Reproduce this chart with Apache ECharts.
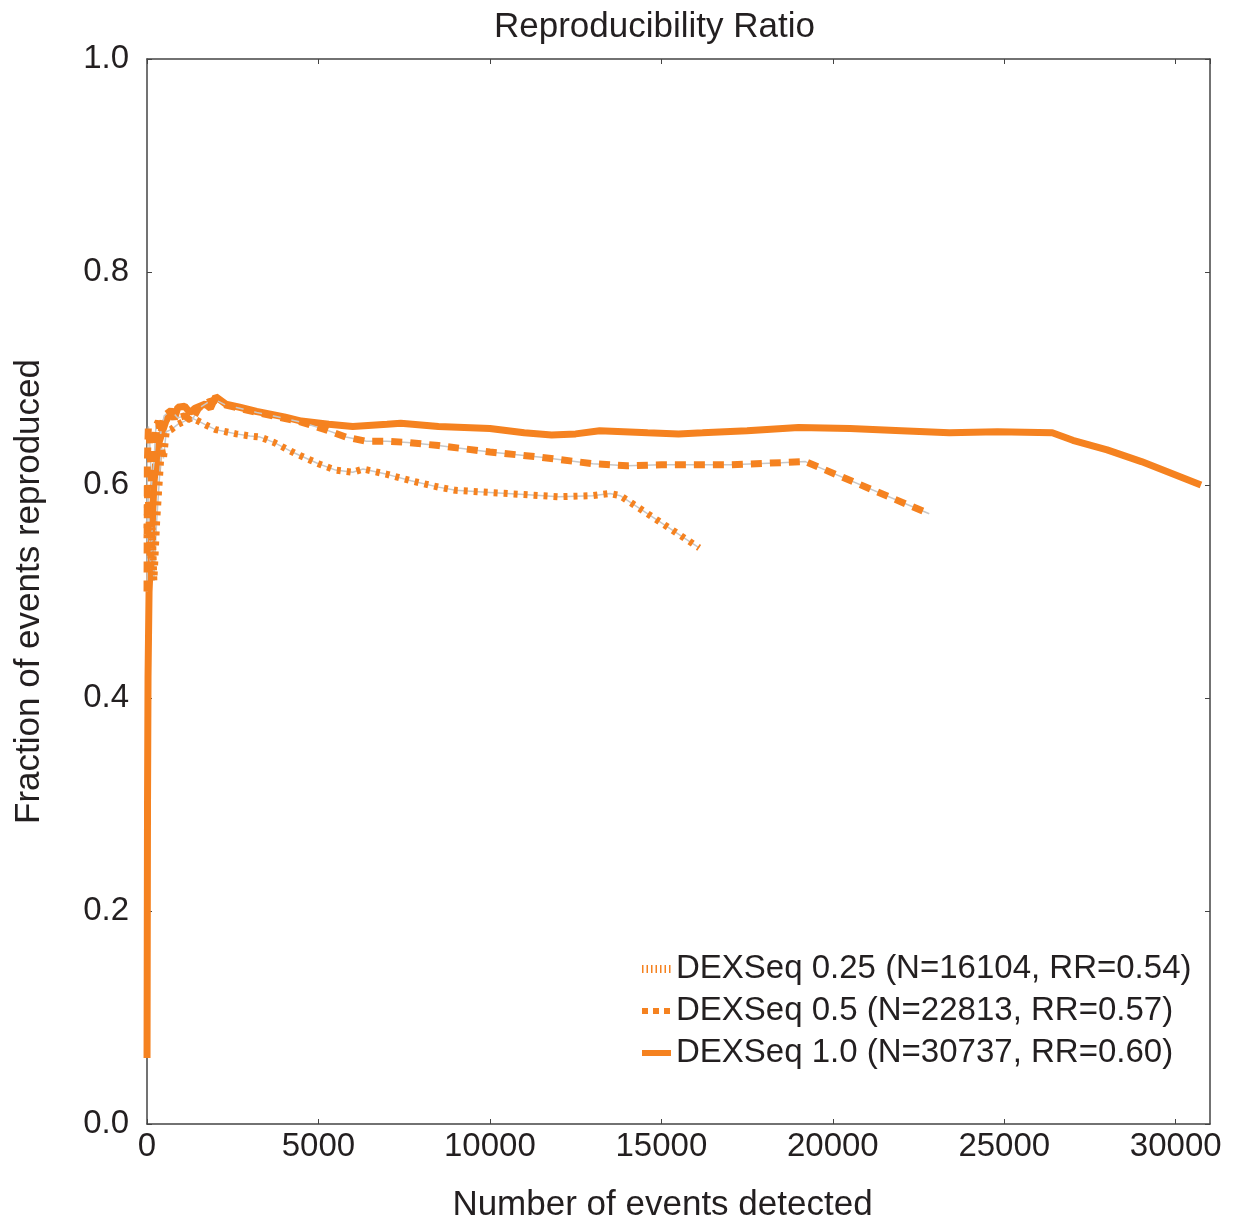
<!DOCTYPE html>
<html>
<head>
<meta charset="utf-8">
<script src="https://cdn.jsdelivr.net/npm/echarts@6/dist/echarts.min.js"></script>
<style>
  html, body { margin: 0; padding: 0; background: #fff; }
  #chart { width: 1244px; height: 1230px; }
</style>
</head>
<body>
<div id="chart"></div>
<script>
// series values: [events detected, fraction reproduced]
var dex100 = [[1,0.062],[15,0.30],[30,0.42],[60,0.50],[100,0.53],[150,0.56],[200,0.60],[250,0.62],[300,0.61],[350,0.64],[450,0.65],[550,0.66],
  [700,0.668],[800,0.662],[900,0.673],[1100,0.674],[1250,0.668],[1400,0.672],[1700,0.676],[1850,0.672],[2000,0.683],[2300,0.676],[2700,0.673],[3200,0.669],[4000,0.664],
  [4500,0.660],[5300,0.657],[6000,0.655],[7000,0.657],[7400,0.658],[8500,0.655],[10000,0.653],[11000,0.649],[11800,0.647],[12500,0.648],
  [13200,0.651],[14600,0.649],[15500,0.648],[16200,0.649],[17500,0.651],[19000,0.654],[20500,0.653],[22000,0.651],[23400,0.649],
  [24800,0.650],[26400,0.649],[27000,0.642],[28000,0.633],[29000,0.622],[30737,0.600]];

var dex050 = [[1,0.50],[10,0.62],[40,0.655],[80,0.64],[130,0.60],[200,0.62],[260,0.655],[330,0.66],[400,0.648],[500,0.665],[700,0.670],
  [900,0.663],[1100,0.665],[1300,0.660],[1500,0.672],[1800,0.678],[2000,0.680],[2300,0.675],[2700,0.672],[3200,0.668],[3800,0.664],
  [4500,0.659],[5200,0.652],[5800,0.645],[6400,0.641],[7000,0.641],[7600,0.640],[8500,0.637],[10000,0.631],[11500,0.626],[13000,0.620],
  [14000,0.618],[15000,0.619],[17000,0.619],[18500,0.621],[19200,0.622],[22813,0.573]];

var dex025 = [[1,0.55],[20,0.60],[50,0.58],[100,0.52],[150,0.56],[200,0.51],[280,0.565],[350,0.60],[420,0.635],[480,0.625],[560,0.650],
  [700,0.652],[900,0.657],[1100,0.660],[1300,0.663],[1500,0.660],[1800,0.655],[2000,0.652],[2300,0.650],[2600,0.648],[3000,0.646],
  [3300,0.645],[3700,0.640],[4300,0.630],[5000,0.620],[5500,0.614],[6000,0.612],[6300,0.615],[7000,0.610],[7700,0.604],[8500,0.598],
  [9000,0.595],[10000,0.593],[11000,0.591],[12000,0.589],[13000,0.590],[13500,0.592],[13800,0.590],[16104,0.541]];

var seriesNames = ['DEXSeq 0.25 (N=16104, RR=0.54)', 'DEXSeq 0.5 (N=22813, RR=0.57)', 'DEXSeq 1.0 (N=30737, RR=0.60)'];

var orange = '#F58220';
var font = 'Liberation Sans, Arial, Helvetica, sans-serif';
var textColor = '#231f20';

var myChart = echarts.init(document.getElementById('chart'));

var boxAxis = {
    axisLine: { show: true, onZero: false, lineStyle: { color: '#444', width: 1.5 } },
    axisTick: { show: true, inside: true, length: 5, lineStyle: { color: '#444', width: 1 } },
    splitLine: { show: false }
};

var option = {
    backgroundColor: '#fff',
    animation: false,
    title: {
        text: 'Reproducibility Ratio',
        left: 489,
        top: 5,
        textStyle: { fontFamily: font, fontSize: 35, fontWeight: 'normal', color: textColor }
    },
    grid: { left: 147, right: 34, top: 59, bottom: 106, containLabel: false },
    legend: {
        orient: 'vertical',
        left: 633,
        top: 946,
        itemWidth: 29,
        itemHeight: 14,
        itemGap: 6,
        itemStyle: { opacity: 0 },
        textStyle: { fontFamily: font, fontSize: 33, color: textColor, lineHeight: 36 },
        data: [
            { name: seriesNames[0], itemStyle: { opacity: 0 }, lineStyle: { width: 8, type: [1.5, 3], color: orange } },
            { name: seriesNames[1], itemStyle: { opacity: 0 }, lineStyle: { width: 6, type: [6, 5], color: orange } },
            { name: seriesNames[2], itemStyle: { opacity: 0 }, lineStyle: { width: 6, type: 'solid', color: orange } }
        ]
    },
    xAxis: [
        Object.assign({
            type: 'value',
            min: 0,
            max: 31000,
            interval: 5000,
            name: 'Number of events detected',
            nameLocation: 'middle',
            nameGap: 64,
            nameTextStyle: { fontFamily: font, fontSize: 35, color: textColor, padding: [0, 32, 0, 0] },
            axisLabel: {
                fontFamily: font, fontSize: 33, color: textColor, margin: 6, showMaxLabel: false,
                formatter: function (v) { return String(v); }
            }
        }, boxAxis),
        Object.assign({
            type: 'value',
            position: 'top',
            min: 0,
            max: 31000,
            interval: 5000,
            axisLabel: { show: false }
        }, boxAxis)
    ],
    yAxis: [
        Object.assign({
            type: 'value',
            min: 0,
            max: 1,
            interval: 0.2,
            name: 'Fraction of events reproduced',
            nameLocation: 'middle',
            nameGap: 100,
            nameTextStyle: { fontFamily: font, fontSize: 35, color: textColor },
            axisLabel: {
                fontFamily: font, fontSize: 33, color: textColor, margin: 18,
                formatter: function (v) { return v.toFixed(1); }
            }
        }, boxAxis),
        Object.assign({
            type: 'value',
            position: 'right',
            min: 0,
            max: 1,
            interval: 0.2,
            axisLabel: { show: false }
        }, boxAxis)
    ],
    series: [
        {
            name: seriesNames[2],
            type: 'line',
            data: dex100,
            showSymbol: false,
            symbol: 'none',
            z: 3,
            color: orange,
            lineStyle: { color: orange, width: 7, type: 'solid' }
        },
        {
            name: 'gray050',
            type: 'line',
            data: dex050,
            symbol: 'none',
            z: 4,
            lineStyle: { color: '#c8c8c8', width: 1.5 }
        },
        {
            name: seriesNames[1],
            type: 'line',
            data: dex050,
            symbol: 'none',
            z: 5,
            color: orange,
            lineStyle: { color: orange, width: 7, type: [11, 8] }
        },
        {
            name: 'gray025',
            type: 'line',
            data: dex025,
            symbol: 'none',
            z: 4,
            lineStyle: { color: '#c8c8c8', width: 1.5 }
        },
        {
            name: seriesNames[0],
            type: 'line',
            data: dex025,
            symbol: 'none',
            z: 5,
            color: orange,
            lineStyle: { color: orange, width: 7, type: [4, 6] }
        }
    ]
};

myChart.setOption(option);
window.addEventListener('resize', function () { myChart.resize(); });
</script>
</body>
</html>
